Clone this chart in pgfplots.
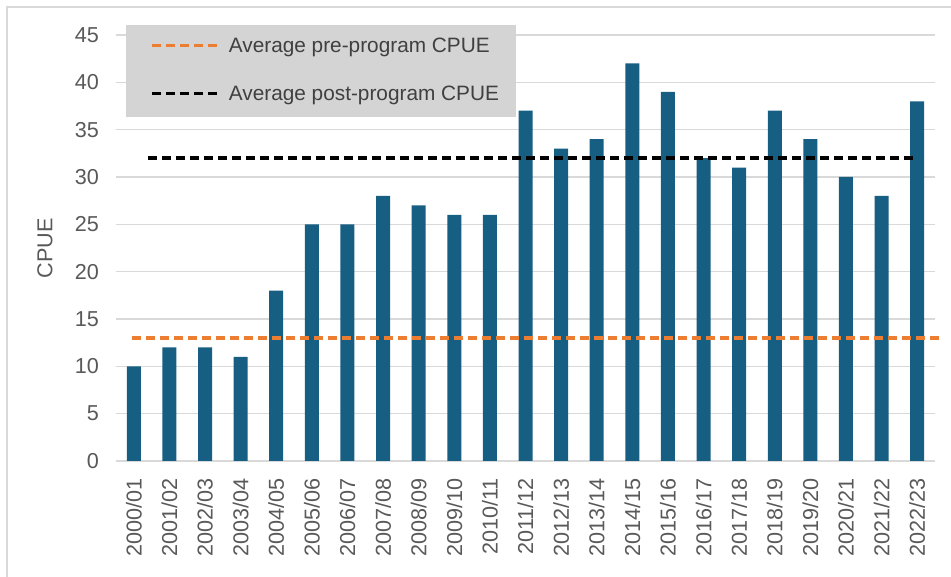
\documentclass[border=0pt]{standalone}
\usepackage{fontspec}
\setmainfont{Liberation Sans}
\usepackage{pgfplots}
\pgfplotsset{compat=1.18}

\definecolor{barblue}{RGB}{22,94,130}
\definecolor{avgorange}{RGB}{237,125,49}
\definecolor{gridgray}{RGB}{217,217,217}
\definecolor{ticktext}{RGB}{89,89,89}
\definecolor{legfill}{RGB}{212,212,212}
\definecolor{legtext}{RGB}{64,64,64}

\begin{document}
\begin{tikzpicture}
\begin{axis}[
    name=ax,
    scale only axis,
    width=409.5pt,
    height=213pt,
    xmin=-0.5, xmax=22.5,
    ymin=0, ymax=45,
    ytick={0,5,...,45},
    xtick={0,...,22},
    xticklabels={2000/01,2001/02,2002/03,2003/04,2004/05,2005/06,2006/07,2007/08,2008/09,2009/10,2010/11,2011/12,2012/13,2013/14,2014/15,2015/16,2016/17,2017/18,2018/19,2019/20,2020/21,2021/22,2022/23},
    x tick label style={rotate=90, anchor=east},
    xticklabel shift=5pt,
    yticklabel shift=5pt,
    tick label style={font=\fontsize{10.8}{13}\selectfont, text=ticktext},
    /pgf/number format/assume math mode=true,
    ylabel={CPUE},
    ylabel style={font=\fontsize{10.8}{13}\selectfont, text=ticktext, at={(-35.5pt,0.5)}, anchor=center},
    ymajorgrids,
    major grid style={gridgray, line width=0.75pt},
    axis line style={draw=none},
    tick style={draw=none},
    clip=false,
    legend cell align=left,
    legend image code/.code={\path (0pt,1pt); \draw[#1] (6pt,1pt) -- (41pt,1pt);},
    legend style={
        at={(0.0122,1.0235)}, anchor=north west,
        fill=legfill, draw=none,
        inner xsep=6pt, inner ysep=6.5pt,
        row sep=15pt,
        font=\fontsize{10.4}{12}\selectfont, text=legtext,
        nodes={inner xsep=2.5pt, inner ysep=0pt, text height=7pt, text depth=2pt},
    },
]
\addplot[ybar, bar width=7pt, fill=barblue, draw=none, forget plot] coordinates {
    (0,10) (1,12) (2,12) (3,11) (4,18) (5,25) (6,25) (7,28) (8,27) (9,26)
    (10,26) (11,37) (12,33) (13,34) (14,42) (15,39) (16,32) (17,31) (18,37)
    (19,34) (20,30) (21,28) (22,38)
};
\addplot[avgorange, line width=1.75pt, dash pattern=on 4.5pt off 2.5pt] coordinates {
    (-0.05,13) (22.75,13)
};
\addlegendentry{Average pre-program CPUE}
\addplot[black, line width=1.75pt, dash pattern=on 4.5pt off 2.5pt] coordinates {
    (0.4,32) (22.0,32)
};
\addlegendentry{Average post-program CPUE}
\end{axis}
\draw[gridgray, line width=0.75pt] ([xshift=-54.5pt,yshift=-80pt]ax.south west) |- ([xshift=20pt,yshift=14pt]ax.north east);
\pgfresetboundingbox
\useasboundingbox ([xshift=-58pt,yshift=-58pt]ax.south west) rectangle ([xshift=8pt,yshift=17.5pt]ax.north east);
\end{tikzpicture}
\end{document}
